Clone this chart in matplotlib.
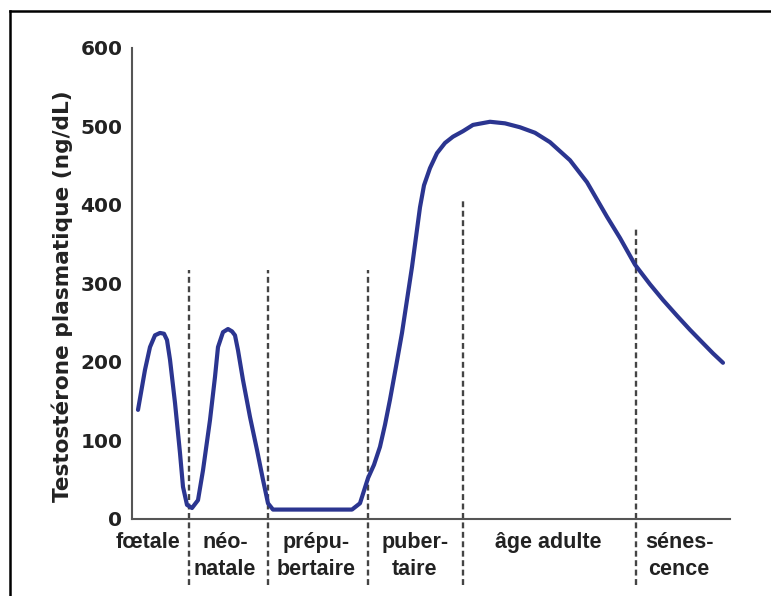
import numpy as np
import matplotlib.pyplot as plt
from matplotlib.lines import Line2D

# =========================
# DATA
# =========================

# age axis: arbitrary units, 0 = start of the axis
age = [6, 13, 18, 23, 28, 32, 35, 38, 43, 48, 51, 55, 60, 66, 71, 78, 83, 86,
       91, 96, 100, 103, 106, 111, 118, 125, 131, 136, 141, 220, 228, 236,
       242, 248, 253, 258, 264, 270, 275, 280, 284, 288, 292, 298, 305, 313,
       321, 331, 341, 358, 373, 388, 403, 418, 438, 455, 475, 488, 503, 518,
       531, 545, 558, 571, 581, 591]

testo = [139, 190, 219, 234, 237, 236, 228, 203, 148, 84, 41, 18, 14, 24, 62,
         126, 181, 219, 238, 242, 239, 234, 215, 177, 130, 88, 50, 20, 12, 12,
         20, 52, 69, 92, 120, 152, 194, 237, 279, 321, 359, 397, 425, 447,
         466, 479, 487, 494, 502, 506, 504, 499, 492, 480, 457, 429, 385, 358,
         324, 299, 279, 259, 241, 224, 211, 199]

# limits between the life stages and height of each dashed line
bounds = [57, 136, 236, 331, 504]
bound_top = [317, 317, 317, 406, 372]

stages = ["fœtale", "néo-\nnatale", "prépu-\nbertaire", "puber-\ntaire",
          "âge adulte", "sénes-\ncence"]
stage_x = [16, 93, 184, 283, 416, 547]

yticks = [0, 100, 200, 300, 400, 500, 600]

# =========================
# FIGURE
# =========================

plt.rcParams["font.family"] = ["DejaVu Sans"]

fig = plt.figure(figsize=(7.71, 5.96), dpi=100)
ax = fig.add_axes([0.1712, 0.1292, 0.7756, 0.7903])

ax.plot(age, testo, color="#2b3590", lw=3.0, solid_capstyle="round",
        solid_joinstyle="round", zorder=3)

for bx, top in zip(bounds, bound_top):
    ax.plot([bx, bx], [-84, top], color="#444444", lw=1.7,
            linestyle=(0, (2.5, 1.5)), clip_on=False, zorder=2)

for sx, lab in zip(stage_x, stages):
    ax.text(sx, -16, lab, ha="center", va="top", fontsize=15.5,
            fontweight="bold", linespacing=1.4, color="#222222",
            family=["Liberation Sans", "DejaVu Sans"])

ax.set_xlim(0, 598)
ax.set_ylim(0, 600)
ax.set_xticks([])
ax.set_yticks(yticks)
ax.set_yticklabels([str(v) for v in yticks], fontsize=14.5,
                   fontweight="bold", color="#222222")
ax.tick_params(axis="y", length=0, pad=7)

for s in ["top", "right"]:
    ax.spines[s].set_visible(False)
for s in ["left", "bottom"]:
    ax.spines[s].set_color("#555555")
    ax.spines[s].set_linewidth(1.5)

ax.set_ylabel("Testostérone plasmatique (ng/dL)", fontsize=15.6,
              fontweight="bold", color="#222222")
ax.yaxis.set_label_coords(-0.099, 0.472)

# cadre de l'image (gauche + haut)
fig.add_artist(Line2D([10 / 771, 10 / 771], [0, 1 - 11 / 596],
                      transform=fig.transFigure, color="black", lw=1.8))
fig.add_artist(Line2D([10 / 771, 1], [1 - 11 / 596, 1 - 11 / 596],
                      transform=fig.transFigure, color="black", lw=1.8))

fig.savefig("out.png", dpi=100)
